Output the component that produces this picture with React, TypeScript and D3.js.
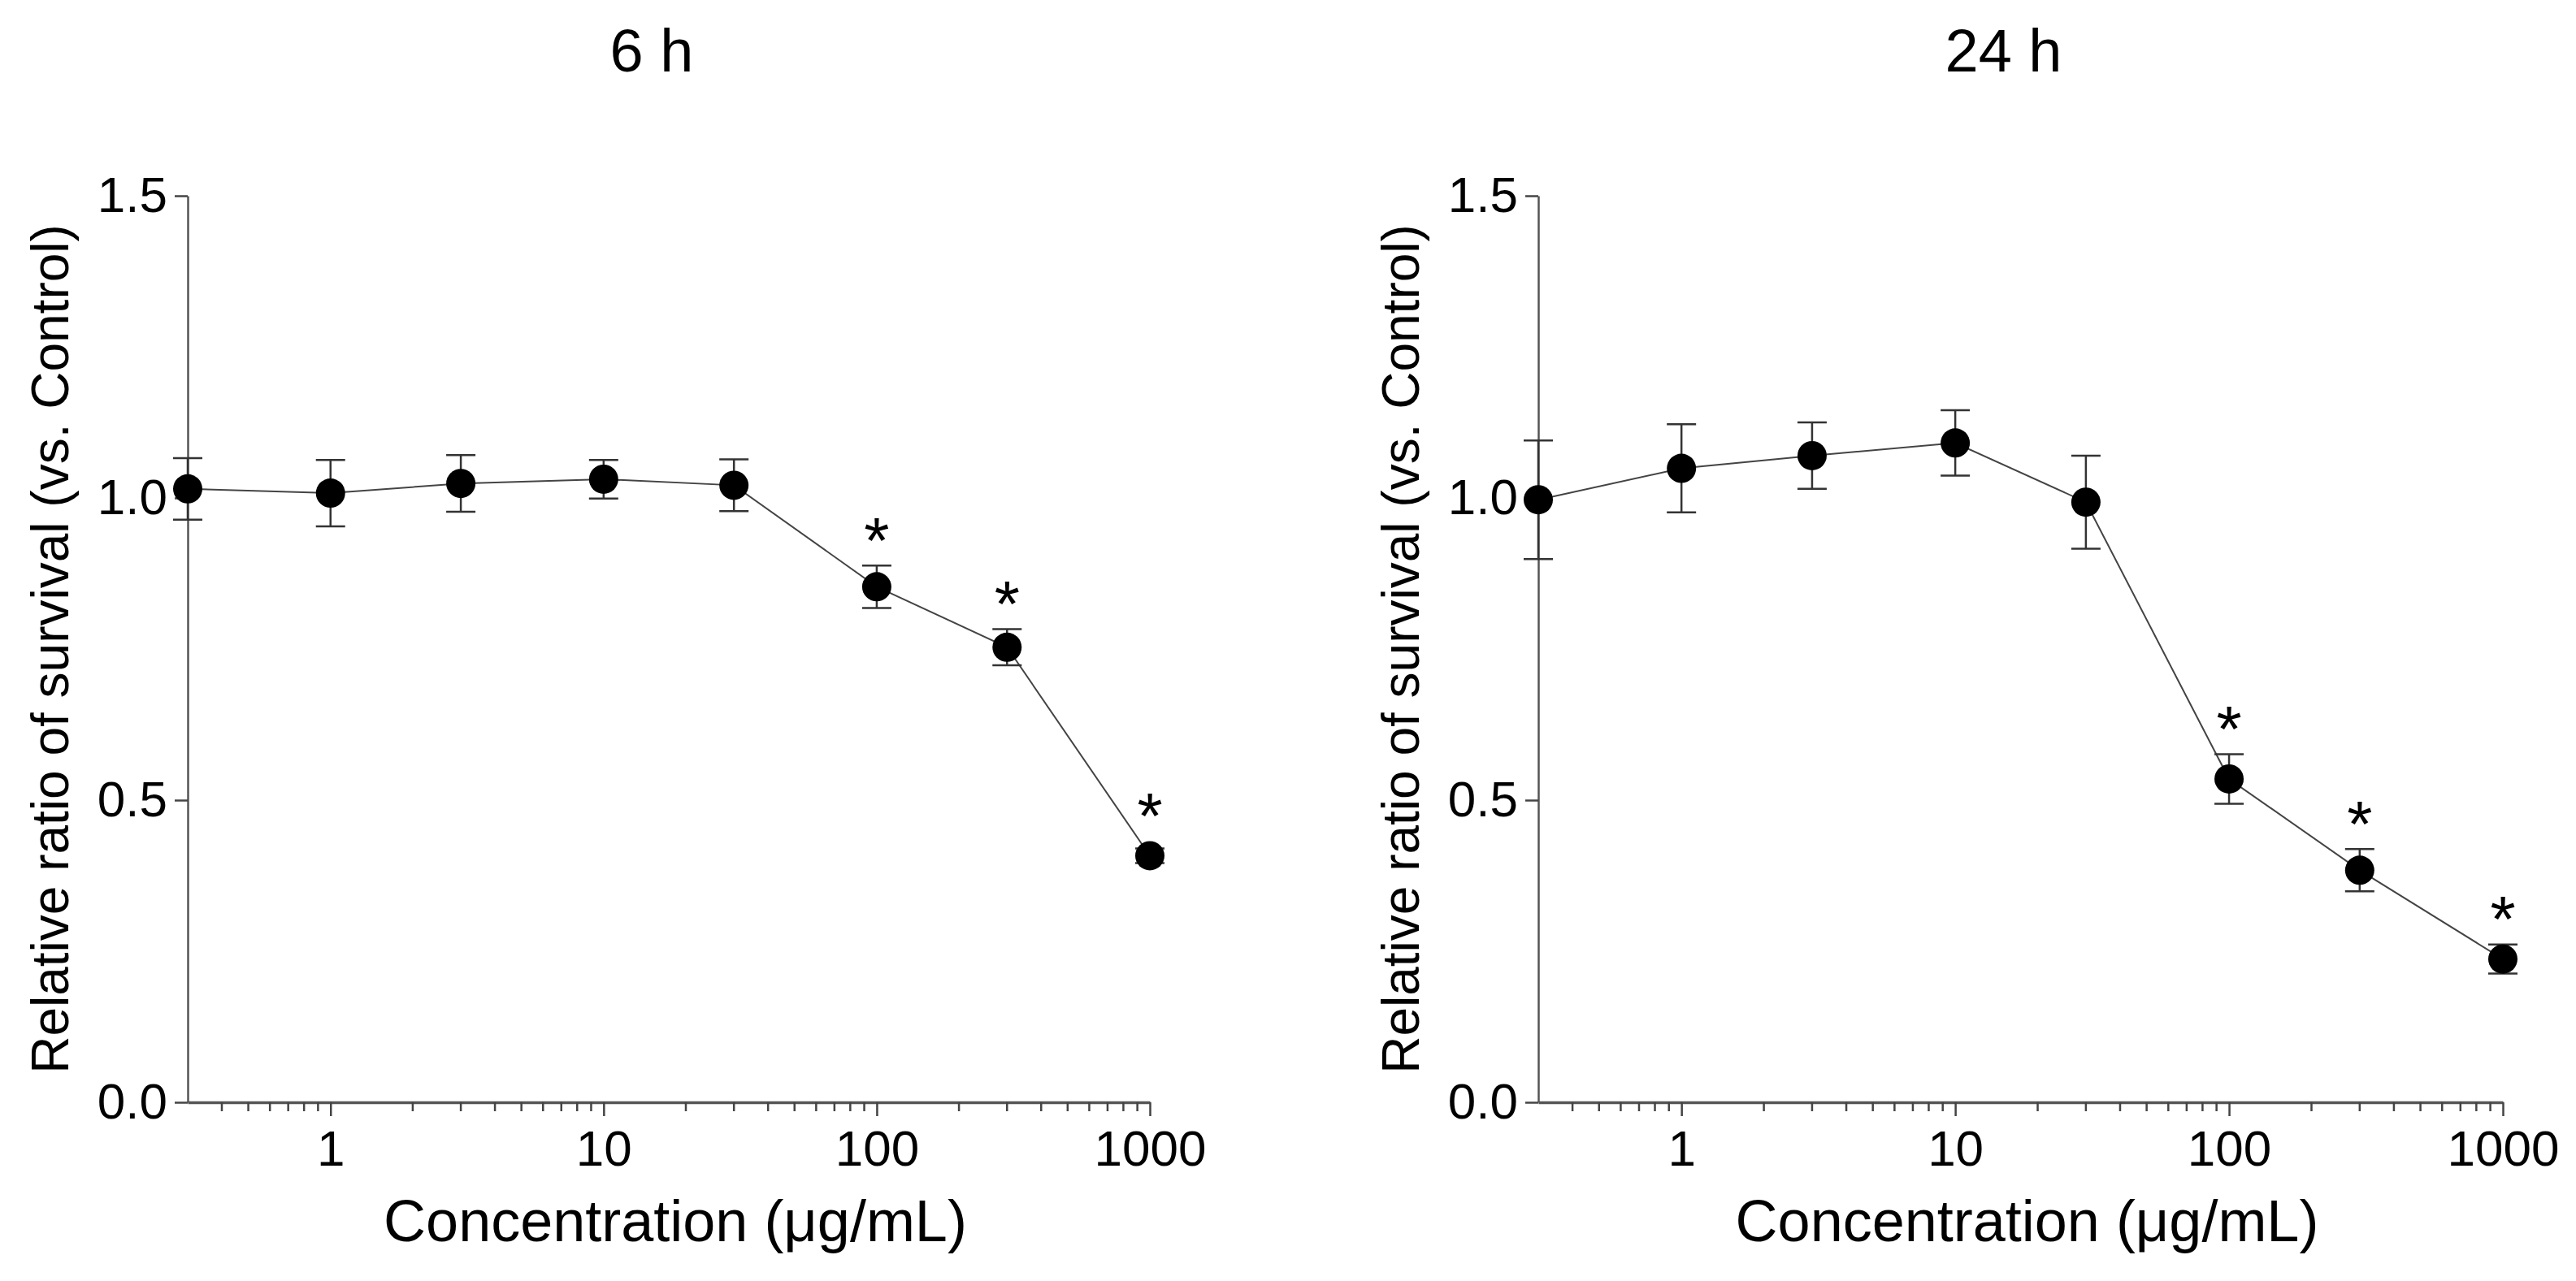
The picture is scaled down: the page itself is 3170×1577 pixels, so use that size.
import { useEffect, useRef } from "react";
import * as d3 from "d3";

const concentrations = [0.3, 1, 3, 10, 30, 100, 300, 1000];
const mean6h = [1.015, 1.008, 1.024, 1.031, 1.021, 0.853, 0.753, 0.408];
const err6h = [0.051, 0.055, 0.047, 0.032, 0.043, 0.035, 0.03, 0.012];
const sig6h = [false, false, false, false, false, true, true, true];
const mean24h = [0.997, 1.049, 1.07, 1.091, 0.993, 0.535, 0.384, 0.237];
const err24h = [0.098, 0.073, 0.055, 0.054, 0.077, 0.041, 0.035, 0.024];
const sig24h = [false, false, false, false, false, true, true, true];
const yTicks = [0, 0.5, 1.0, 1.5];
const xMajorTicks = [1, 10, 100, 1000];
const panelTitles = ["6 h", "24 h"];

const FONT = "'Liberation Sans', Arial, Helvetica, sans-serif";
const WIDTH = 3170;
const HEIGHT = 1577;

type Panel = {
  title: string;
  means: number[];
  errs: number[];
  sig: boolean[];
  x0: number;
  x1: number;
};

export default function App() {
  const ref = useRef<SVGSVGElement>(null);

  useEffect(() => {
    if (!ref.current) return;
    const svg = d3.select(ref.current);
    svg.selectAll("*").remove();

    const top = 241;
    const bottom = 1357;
    const r = 18;

    const panels: Panel[] = [
      { title: panelTitles[0], means: mean6h, errs: err6h, sig: sig6h, x0: 231, x1: 1415 },
      { title: panelTitles[1], means: mean24h, errs: err24h, sig: sig24h, x0: 1893, x1: 3080 },
    ];

    const y = d3.scaleLinear().domain([0, 1.5]).range([bottom, top]);

    // minor ticks 0.4..0.9, 2..9, 20..90, 200..900
    const minor: number[] = [];
    [0.1, 1, 10, 100].forEach((dec) => {
      for (let k = 2; k <= 9; k++) {
        const v = +(k * dec).toFixed(3);
        if (v > 0.3 && v < 1000) minor.push(v);
      }
    });

    panels.forEach((p) => {
      const x = d3.scaleLog().domain([0.3, 1000]).range([p.x0, p.x1]);
      const g = svg.append("g");

      // x axis
      const xa = g
        .append("g")
        .attr("transform", `translate(0,${bottom})`)
        .call(
          d3
            .axisBottom(x)
            .tickValues(xMajorTicks)
            .tickFormat(d3.format("d"))
            .tickSize(17)
            .tickSizeOuter(0)
            .tickPadding(17)
        );
      xa.select(".domain").attr("stroke", "#555").attr("stroke-width", 3.5);
      xa.selectAll(".tick line").attr("stroke", "#444").attr("stroke-width", 2.5);
      xa.selectAll("text")
        .attr("fill", "#000")
        .style("font-family", FONT)
        .style("font-size", "62px");

      xa.selectAll(".minor")
        .data(minor)
        .join("line")
        .attr("class", "minor")
        .attr("x1", (d) => x(d))
        .attr("x2", (d) => x(d))
        .attr("y1", 0)
        .attr("y2", 11)
        .attr("stroke", "#444")
        .attr("stroke-width", 2.5);

      // y axis
      const ya = g
        .append("g")
        .attr("transform", `translate(${p.x0},0)`)
        .call(
          d3
            .axisLeft(y)
            .tickValues(yTicks)
            .tickFormat(d3.format(".1f"))
            .tickSize(16)
            .tickSizeOuter(0)
            .tickPadding(9)
        );
      ya.select(".domain").attr("stroke", "#555").attr("stroke-width", 2.5);
      ya.selectAll(".tick line").attr("stroke", "#444").attr("stroke-width", 2.5);
      ya.selectAll("text")
        .attr("fill", "#000")
        .style("font-family", FONT)
        .style("font-size", "62px");

      // titles and labels
      g.append("text")
        .attr("x", (p.x0 + p.x1) / 2 - 21)
        .attr("y", 88)
        .attr("text-anchor", "middle")
        .style("font-family", FONT)
        .style("font-size", "74px")
        .text(p.title);

      g.append("text")
        .attr("x", (p.x0 + p.x1) / 2 + 8)
        .attr("y", 1528)
        .attr("text-anchor", "middle")
        .style("font-family", FONT)
        .style("font-size", "72px")
        .text("Concentration (μg/mL)");

      g.append("text")
        .attr("transform", `translate(${p.x0 - 147},${(top + bottom) / 2}) rotate(-90)`)
        .attr("text-anchor", "middle")
        .style("font-family", FONT)
        .style("font-size", "64px")
        .text("Relative ratio of survival (vs. Control)");

      const data = concentrations.map((c, i) => ({
        c,
        m: p.means[i],
        e: p.errs[i],
        s: p.sig[i],
      }));

      // connecting line
      g.append("path")
        .datum(data)
        .attr("fill", "none")
        .attr("stroke", "#444")
        .attr("stroke-width", 2)
        .attr(
          "d",
          d3
            .line<(typeof data)[number]>()
            .x((d) => x(d.c))
            .y((d) => y(d.m))
        );

      // error bars
      const eb = g.append("g").attr("stroke", "#333").attr("stroke-width", 2.5);
      eb.selectAll(".v")
        .data(data)
        .join("line")
        .attr("x1", (d) => x(d.c))
        .attr("x2", (d) => x(d.c))
        .attr("y1", (d) => y(d.m + d.e))
        .attr("y2", (d) => y(d.m - d.e));
      [1, -1].forEach((sgn) => {
        eb.selectAll(`.cap${sgn}`)
          .data(data)
          .join("line")
          .attr("class", `cap${sgn}`)
          .attr("x1", (d) => x(d.c) - r)
          .attr("x2", (d) => x(d.c) + r)
          .attr("y1", (d) => y(d.m + sgn * d.e))
          .attr("y2", (d) => y(d.m + sgn * d.e));
      });

      // markers
      g.selectAll(".pt")
        .data(data)
        .join("circle")
        .attr("cx", (d) => x(d.c))
        .attr("cy", (d) => y(d.m))
        .attr("r", r)
        .attr("fill", "#000");

      // significance asterisks
      g.selectAll(".star")
        .data(data.filter((d) => d.s))
        .join("text")
        .attr("x", (d) => x(d.c))
        .attr("y", (d) => Math.min(y(d.m + d.e), y(d.m) - r) - 48 + 0.56 * 80)
        .attr("text-anchor", "middle")
        .style("font-family", FONT)
        .style("font-size", "80px")
        .text("*");
    });
  }, []);

  return (
    <svg
      ref={ref}
      width={WIDTH}
      height={HEIGHT}
      style={{ position: "absolute", left: 0, top: 0, background: "#fff" }}
    ></svg>
  );
}
